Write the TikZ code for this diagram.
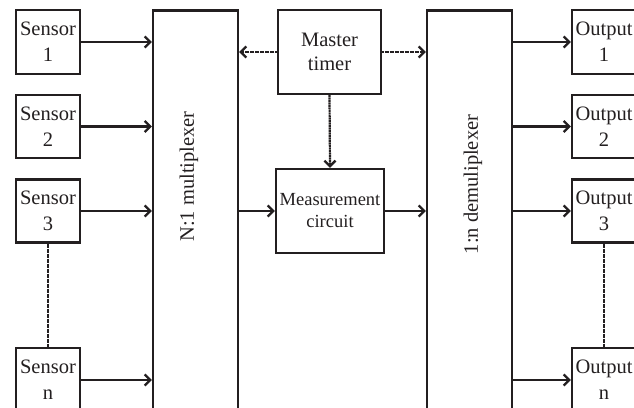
\documentclass[tikz,border=0pt]{standalone}
\usepackage{fontspec}
\setmainfont{Liberation Serif}
\usetikzlibrary{arrows.meta}
\definecolor{ink}{RGB}{35,31,32}
\begin{document}
\begin{tikzpicture}[x=1pt,y=-1pt,
  box/.style={draw=ink, line width=2.2pt, inner sep=0pt, align=center, text=ink,
    font=\fontsize{20.5}{26}\selectfont},
  smallbox/.style={box, minimum width=64pt, minimum height=64pt},
  conn/.style={draw=ink, line width=2.2pt, -{Straight Barb[length=5.5pt,width=11pt,line width=2.4pt]}},
  dotconn/.style={conn, dash pattern=on 2pt off 0.5pt},
  dotline/.style={draw=ink, line width=2.2pt, dash pattern=on 2pt off 0.5pt},
  vlabel/.style={rotate=90, text=ink, inner sep=0pt, font=\fontsize{20.5}{24}\selectfont}]
\useasboundingbox (0,0) rectangle (634,407);
\clip (0,0) rectangle (634,407);
% sensors
\node[smallbox] (s1) at (48,42) {Sensor\\1};
\node[smallbox, minimum height=63pt] (s2) at (48,126.5) {Sensor\\2};
\node[smallbox, minimum height=63pt] (s3) at (48,211) {Sensor\\3};
\node[smallbox] (sn) at (48,380) {Sensor\\n};
% mux / demux
\node[box, minimum width=85pt, minimum height=420pt] (mux) at (195.5,220.5) {};
\node[vlabel] (muxl) at (189,176.5) {N:1 multiplexer};
\node[box, minimum width=85pt, minimum height=420pt] (dmx) at (469.5,220.5) {};
\node[vlabel] (dmxl) at (473,184.5) {1:n demuliplexer};
% master timer and measurement
\node[box, minimum width=103pt, minimum height=84pt, font=\fontsize{20.5}{24}\selectfont] (mt) at (329.5,52) {Master\\timer};
\node[box, minimum width=108pt, minimum height=84pt, font=\fontsize{18.5}{22}\selectfont] (meas) at (330,211) {Measurement\\circuit};
% outputs
\node[smallbox] (o1) at (604,42) {Output\\1};
\node[smallbox, minimum height=63pt] (o2) at (604,126.5) {Output\\2};
\node[smallbox, minimum height=63pt] (o3) at (604,211) {Output\\3};
\node[smallbox] (on) at (604,380) {Output\\n};
% connectors
\draw[conn] (s1.east) -- (s1.east -| mux.west);
\draw[conn] (s2.east) -- (s2.east -| mux.west);
\draw[conn] (s3.east) -- (s3.east -| mux.west);
\draw[conn] (sn.east) -- (sn.east -| mux.west);
\draw[conn] (o1.west -| dmx.east) -- (o1.west);
\draw[conn] (o2.west -| dmx.east) -- (o2.west);
\draw[conn] (o3.west -| dmx.east) -- (o3.west);
\draw[conn] (on.west -| dmx.east) -- (on.west);
\draw[dotconn] (mt.west) -- (mt.west -| mux.east);
\draw[dotconn] (mt.east) -- (mt.east -| dmx.west);
\draw[dotconn] (mt.south) -- (meas.north);
\draw[conn] (meas.west -| mux.east) -- (meas.west);
\draw[conn] (meas.east) -- (meas.east -| dmx.west);
\draw[dotline] (s3.south) -- (sn.north);
\draw[dotline] (o3.south) -- (on.north);
\end{tikzpicture}
\end{document}
